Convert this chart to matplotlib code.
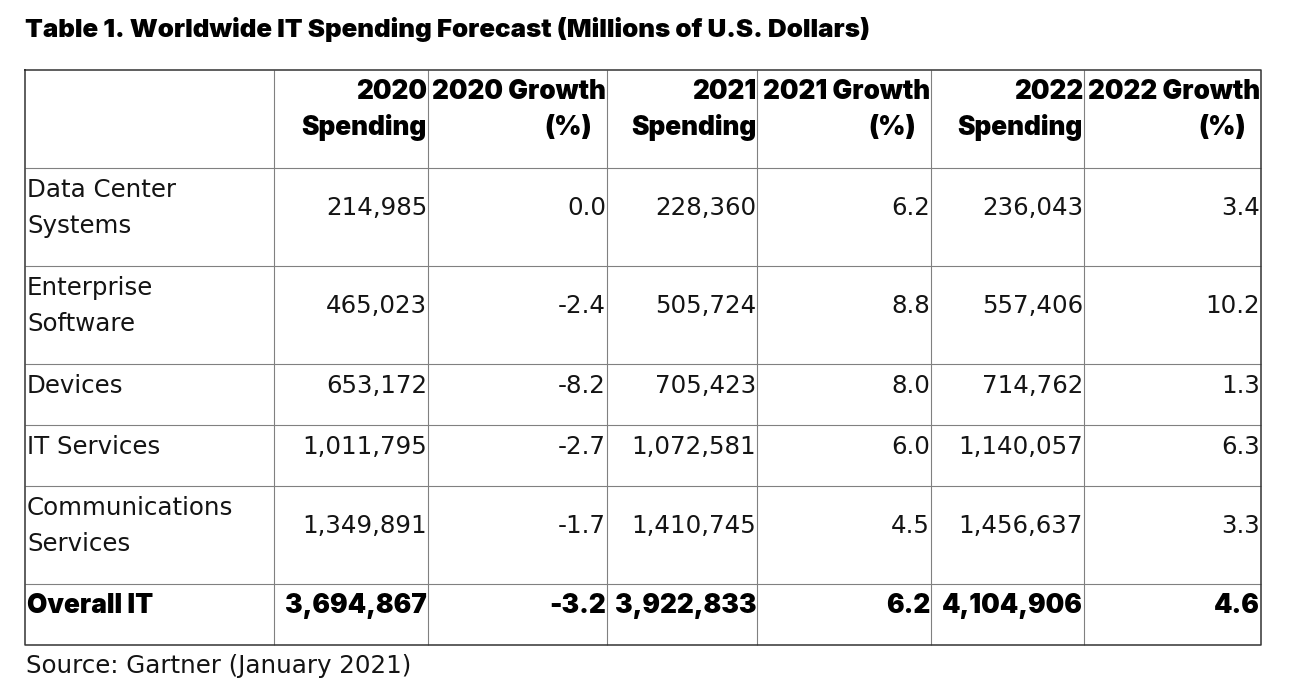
import matplotlib
matplotlib.use('Agg')
import matplotlib.pyplot as plt

# table values
categories = [["Data Center", "Systems"], ["Enterprise", "Software"], ["Devices"],
              ["IT Services"], ["Communications", "Services"]]
spend_2020 = [214985, 465023, 653172, 1011795, 1349891]
growth_2020 = [0.0, -2.4, -8.2, -2.7, -1.7]
spend_2021 = [228360, 505724, 705423, 1072581, 1410745]
growth_2021 = [6.2, 8.8, 8.0, 6.0, 4.5]
spend_2022 = [236043, 557406, 714762, 1140057, 1456637]
growth_2022 = [3.4, 10.2, 1.3, 6.3, 3.3]
overall_label = "Overall IT"
overall = [3694867, -3.2, 3922833, 6.2, 4104906, 4.6]
headers = [["2020", "Spending"], ["2020 Growth", "(%)"], ["2021", "Spending"],
           ["2021 Growth", "(%)"], ["2022", "Spending"], ["2022 Growth", "(%)"]]
title = "Table 1. Worldwide IT Spending Forecast (Millions of U.S. Dollars)"
source = "Source: Gartner (January 2021)"

# layout in pixels
W, H = 1297, 693
xs = [25, 274, 428, 607, 757, 931, 1084, 1261]
ys = [70, 168, 266, 364, 425, 486, 584, 645]
LS = 36.6

fig = plt.figure(figsize=(W / 100, H / 100), dpi=100)
ax = fig.add_axes([0, 0, 1, 1])
ax.set_xlim(0, W)
ax.set_ylim(H, 0)
ax.axis('off')
renderer = fig.canvas.get_renderer()


def fit_size(txt, target_px, **kw):
    # font size (pt) that makes txt about target_px wide
    t = ax.text(0, 0, txt, fontsize=20, **kw)
    w = t.get_window_extent(renderer).width
    t.remove()
    return 20 * target_px / w


body_fam = ['DejaVu Sans']
bold_fam = ['Inter', 'DejaVu Sans']
BODY = dict(family=body_fam, color='#141414')
BODY['fontsize'] = fit_size(source, 385, family=body_fam)
BOLD = dict(family=bold_fam, fontweight='black', color='#000000')
BOLD['fontsize'] = fit_size("2020 Growth", 175, family=bold_fam, fontweight='black')
TITLE = dict(BOLD)
TITLE['fontsize'] = fit_size(title, 847, family=bold_fam, fontweight='black')

# grid lines
for x in xs[1:-1]:
    ax.plot([x, x], [ys[0], ys[-1]], color='#808080', lw=0.8, solid_capstyle='butt')
for y in ys[1:-1]:
    ax.plot([xs[0], xs[-1]], [y, y], color='#808080', lw=0.8, solid_capstyle='butt')
ax.plot([xs[0], xs[-1], xs[-1], xs[0], xs[0]], [ys[0], ys[0], ys[-1], ys[-1], ys[0]],
        color='#333333', lw=1.1)


def cell_lines(lines, col, row, style, right_pad=1, last_pad=None):
    top = ys[row]
    nrows = 2 if (ys[row + 1] - ys[row]) > 80 else 1
    if len(lines) == 1 and nrows == 2:
        bases = [top + 28.7 + LS / 2]
    else:
        bases = [top + 28.7 + LS * k for k in range(len(lines))]
    for k, (txt, b) in enumerate(zip(lines, bases)):
        if col == 0:
            ax.text(xs[0] + 2, b, txt, ha='left', va='baseline', **style)
        else:
            pad = right_pad
            if last_pad is not None and k == len(lines) - 1 and len(lines) > 1:
                pad = last_pad
            ax.text(xs[col + 1] - pad, b, txt, ha='right', va='baseline', **style)


# header
for j, h in enumerate(headers):
    cell_lines(h, j + 1, 0, BOLD, right_pad=1, last_pad=15 if 'Growth' in h[0] else 1)

# body
cols = [spend_2020, growth_2020, spend_2021, growth_2021, spend_2022, growth_2022]
for i, cat in enumerate(categories):
    cell_lines(cat, 0, i + 1, BODY)
    for j, vals in enumerate(cols):
        v = vals[i]
        txt = f"{v:,}" if j % 2 == 0 else f"{v:.1f}"
        cell_lines([txt], j + 1, i + 1, BODY)

# overall row
r = len(categories) + 1
cell_lines([overall_label], 0, r, BOLD)
for j, v in enumerate(overall):
    txt = f"{v:,}" if j % 2 == 0 else f"{v:.1f}"
    cell_lines([txt], j + 1, r, BOLD)

ax.text(25, 37.5, title, ha='left', va='baseline', **TITLE)
ax.text(26, 673, source, ha='left', va='baseline', **BODY)

fig.savefig('out.png', dpi=100, facecolor='white')
